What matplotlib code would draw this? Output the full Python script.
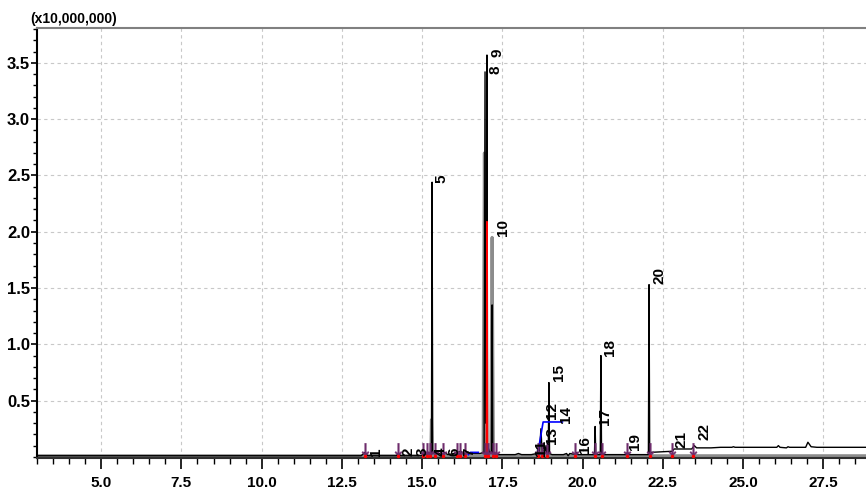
import matplotlib
matplotlib.use("Agg")
import matplotlib.pyplot as plt
from matplotlib.ticker import FixedLocator, MultipleLocator, FormatStrFormatter

plt.rcParams['font.family'] = ['Liberation Sans', 'DejaVu Sans']

# black trace (time in min, intensity x10,000,000)
t_black = [3.0, 13.10, 13.22, 13.30, 14.20, 14.26, 14.33, 15.00, 15.05, 15.12, 15.20, 15.26,
           15.29, 15.31, 15.33, 15.45, 15.60, 15.70, 15.80, 16.00, 16.20, 16.30, 16.40,
           16.60, 16.80, 16.93, 16.96, 16.98, 17.00, 17.02, 17.04, 17.10, 17.16, 17.18,
           17.20, 17.30, 17.60, 17.90, 18.00, 18.10, 18.40, 18.58, 18.62, 18.66, 18.70,
           18.74, 18.78, 18.82, 18.86, 18.88, 18.91, 18.93, 18.95, 18.97, 19.05, 19.40,
           19.50, 19.55, 19.60, 19.80, 19.82, 19.85, 20.30, 20.37, 20.39, 20.41, 20.50,
           20.55, 20.57, 20.59, 20.70, 21.35, 21.40, 21.45, 22.03, 22.05, 22.07, 22.09,
           22.12, 22.80, 22.85, 23.40, 23.48, 23.55, 24.00, 24.30, 24.65, 24.70, 24.75,
           26.05, 26.10, 26.15, 26.35, 26.40, 26.45, 26.95, 27.02, 27.12, 27.30, 28.83]
y_black = [0.01, 0.01, 0.04, 0.01, 0.01, 0.03, 0.01, 0.01, 0.05, 0.02, 0.04, 0.02,
           0.02, 2.44, 0.03, 0.04, 0.02, 0.04, 0.02, 0.03, 0.05, 0.02, 0.04,
           0.03, 0.03, 0.04, 3.42, 0.30, 0.30, 3.57, 0.10, 0.04, 0.04, 1.35,
           0.04, 0.02, 0.02, 0.02, 0.03, 0.02, 0.02, 0.03, 0.10, 0.03, 0.25,
           0.04, 0.12, 0.04, 0.10, 0.04, 0.03, 0.03, 0.66, 0.03, 0.02, 0.02,
           0.03, 0.01, 0.03, 0.02, 0.04, 0.02, 0.02, 0.02, 0.27, 0.02, 0.02,
           0.02, 0.90, 0.02, 0.02, 0.02, 0.04, 0.02, 0.02, 0.02, 1.53, 0.03,
           0.04, 0.05, 0.07, 0.07, 0.10, 0.08, 0.08, 0.085, 0.085, 0.09, 0.085,
           0.085, 0.10, 0.085, 0.08, 0.09, 0.085, 0.085, 0.13, 0.09, 0.085, 0.085]

# grey trace
t_grey = [3.0, 15.27, 15.29, 15.31, 16.90, 16.94, 16.98, 17.14, 17.18, 17.22, 28.83]
y_grey = [0.01, 0.01, 0.33, 0.01, 0.01, 2.70, 0.01, 0.01, 1.95, 0.01, 0.01]

# red segment
t_red = [17.00, 17.02, 17.04]
y_red = [0.0, 2.09, 0.0]

# blue baseline marks
t_blue1 = [16.44, 16.50, 16.75]
y_blue1 = [0.02, 0.04, 0.04]
t_blue2 = [18.62, 18.77, 19.37]
y_blue2 = [0.06, 0.31, 0.31]

# peak start/end arrows
arrow_t = [13.22, 14.25, 15.03, 15.16, 15.25, 15.40, 15.65, 16.09, 16.18, 16.34, 16.96,
           17.06, 17.21, 17.31, 18.61, 18.74, 18.89, 19.77, 20.39, 20.61, 21.39, 22.10,
           22.79, 23.44]

# peak labels
label_txt = ['1', '2', '3', '4', '5', '6', '7', '8', '9', '10', '11', '12', '13', '14',
             '15', '16', '17', '18', '19', '20', '21', '22']
label_t = [13.35, 14.35, 14.80, 15.36, 15.40, 15.80, 16.25, 17.06, 17.12, 17.31, 18.50,
           18.83, 18.83, 19.25, 19.05, 19.86, 20.48, 20.64, 21.42, 22.17, 22.85, 23.57]
label_h = [0.01, 0.01, 0.01, 0.01, 2.43, 0.01, 0.01, 3.40, 3.55, 1.96, 0.01,
           0.34, 0.11, 0.30, 0.67, 0.03, 0.28, 0.90, 0.06, 1.54, 0.08, 0.15]

x_major = [5.0, 7.5, 10.0, 12.5, 15.0, 17.5, 20.0, 22.5, 25.0, 27.5]
y_major = [0.5, 1.0, 1.5, 2.0, 2.5, 3.0, 3.5]

fig = plt.figure(figsize=(8.66, 4.97), dpi=100)
ax = fig.add_axes([37 / 866, 1 - 458 / 497, 1 - 37 / 866, 430 / 497])

ax.plot(t_grey, y_grey, color='#8c8c8c', lw=2.2, zorder=2)
ax.plot(t_black, y_black, color='black', lw=1.0, zorder=3)
ax.plot(t_red, y_red, color='red', lw=1.0, zorder=4)
ax.plot(t_blue1, y_blue1, color='blue', lw=1.2, zorder=4)
ax.plot(t_blue2, y_blue2, color='blue', lw=1.2, zorder=4)

ax.plot(arrow_t, [0.07] * len(arrow_t), ls='none', marker=r'$\downarrow$',
        markersize=9, markeredgewidth=0.3, color='#6e2c6c', zorder=5)
ax.plot(arrow_t, [0.008] * len(arrow_t), ls='none', marker='o', markersize=2.5,
        color='red', markeredgewidth=0, zorder=6)

for s, t, h in zip(label_txt, label_t, label_h):
    ax.text(t, h, s, rotation=90, ha='left', va='bottom', fontsize=11,
            fontweight='bold', zorder=7)

ax.set_xlim(3.0, 28.83)
ax.set_ylim(-0.01, 3.81)

ax.xaxis.set_major_locator(FixedLocator(x_major))
ax.xaxis.set_minor_locator(MultipleLocator(0.5))
ax.yaxis.set_major_locator(FixedLocator(y_major))
ax.yaxis.set_minor_locator(MultipleLocator(0.1))
ax.xaxis.set_major_formatter(FormatStrFormatter('%.1f'))
ax.yaxis.set_major_formatter(FormatStrFormatter('%.1f'))

ax.tick_params(axis='x', which='major', direction='out', length=8, width=1.2,
               pad=5, labelsize=11)
ax.tick_params(axis='x', which='minor', direction='out', length=4, width=1.0)
ax.tick_params(axis='y', which='major', direction='out', length=4, width=1.2,
               pad=1, labelsize=12)
ax.tick_params(axis='y', which='minor', direction='out', length=3, width=1.0)
for lab in ax.get_xticklabels() + ax.get_yticklabels():
    lab.set_fontweight('bold')

ax.grid(True, which='major', color='#c8c8c8', ls=(0, (3, 3)), lw=0.8)
ax.set_axisbelow(True)

ax.spines['right'].set_visible(False)
ax.spines['top'].set_color('#808080')
ax.spines['top'].set_linewidth(1.5)
ax.spines['left'].set_linewidth(1.5)
ax.spines['bottom'].set_linewidth(1.5)
ax.spines['bottom'].set_color('#303030')

fig.text(30 / 866, 1 - 26 / 497, '(x10,000,000)', ha='left', va='bottom',
         fontsize=10, fontweight='bold')

fig.savefig('out.png', dpi=100)
